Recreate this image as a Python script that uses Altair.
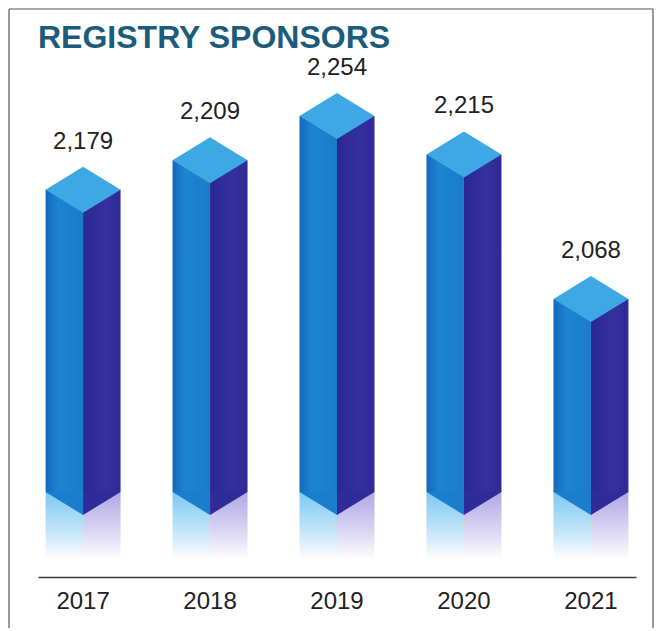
import altair as alt
import pandas as pd

years = ["2017", "2018", "2019", "2020", "2021"]
sponsors = [2179, 2209, 2254, 2215, 2068]
title_text = ["REGISTRY SPONSORS"]

df = pd.DataFrame({"year": years, "value": sponsors})
tdf = pd.DataFrame({"t": title_text})

Y_MIN, Y_MAX = 1785.5, 2302.8
FLOOR = 1871.9
REFL = 1803.0

FRONT = "#1a7dce"
SIDE = "#302b9a"
TOP = "#3ea8e4"
FONT = "Liberation Sans"

x = alt.X("year:N", title=None,
          scale=alt.Scale(paddingInner=0.41, paddingOuter=0.06),
          axis=alt.Axis(labelAngle=0, labelFontSize=24, labelColor="#222222",
                        labelFont=FONT, ticks=False, labelPadding=12,
                        domainColor="#3a3a3a", domainWidth=1.5, grid=False))
yscale = alt.Scale(domain=[Y_MIN, Y_MAX], zero=False, nice=False)

base = alt.Chart(df)

refl_front = base.mark_bar(
    width=37.5, xOffset=-18.75,
    color=alt.Gradient(gradient="linear", x1=0, x2=0, y1=0, y2=1,
                       stops=[alt.GradientStop(color="#7cc8f2", offset=0),
                              alt.GradientStop(color="#c6e6f9", offset=0.6),
                              alt.GradientStop(color="#ffffff", offset=1)])
).encode(x=x, y=alt.Y("floor:Q", scale=yscale, axis=None), y2="refl:Q").transform_calculate(
    floor=str(FLOOR), refl=str(REFL))

refl_side = base.mark_bar(
    width=37.5, xOffset=18.75,
    color=alt.Gradient(gradient="linear", x1=0, x2=0, y1=0, y2=1,
                       stops=[alt.GradientStop(color="#b0a6e4", offset=0),
                              alt.GradientStop(color="#ddd8f3", offset=0.6),
                              alt.GradientStop(color="#ffffff", offset=1)])
).encode(x=x, y=alt.Y("floor:Q", scale=yscale, axis=None), y2="refl:Q").transform_calculate(
    floor=str(FLOOR), refl=str(REFL))

front = base.mark_bar(
    width=37.5, xOffset=-18.75,
    color=alt.Gradient(gradient="linear", x1=0, x2=1, y1=0, y2=0,
                       stops=[alt.GradientStop(color="#1668bf", offset=0),
                              alt.GradientStop(color="#1d84d3", offset=0.35),
                              alt.GradientStop(color="#1a7bcc", offset=1)])
).encode(x=x, y=alt.Y("value:Q", scale=yscale, axis=None), y2="floor:Q").transform_calculate(
    floor=str(FLOOR))

side = base.mark_bar(
    width=37.5, xOffset=18.75,
    color=alt.Gradient(gradient="linear", x1=0, x2=1, y1=0, y2=0,
                       stops=[alt.GradientStop(color="#2c2892", offset=0),
                              alt.GradientStop(color="#352fa0", offset=0.6),
                              alt.GradientStop(color="#2f2a96", offset=1)])
).encode(x=x, y=alt.Y("value:Q", scale=yscale, axis=None), y2="floor:Q").transform_calculate(
    floor=str(FLOOR))

vfront = base.mark_point(
    shape="M -1 0 L 0 0 L 0 0.613 Z", size=5625, filled=True, opacity=1,
    strokeWidth=0, color=FRONT
).encode(x=x, y=alt.Y("floor:Q", scale=yscale, axis=None)).transform_calculate(floor=str(FLOOR))

vside = base.mark_point(
    shape="M 0 0 L 1 0 L 0 0.613 Z", size=5625, filled=True, opacity=1,
    strokeWidth=0, color=SIDE
).encode(x=x, y=alt.Y("floor:Q", scale=yscale, axis=None)).transform_calculate(floor=str(FLOOR))

top = base.mark_point(
    shape="M -1 0 L 0 -0.613 L 1 0 L 0 0.613 Z", size=5625, filled=True, opacity=1,
    strokeWidth=0, color=TOP
).encode(x=x, y=alt.Y("value:Q", scale=yscale, axis=None))

labels = base.mark_text(
    dy=-48, fontSize=24, font=FONT, color="#222222", baseline="middle"
).encode(x=x, y=alt.Y("value:Q", scale=yscale, axis=None),
         text=alt.Text("value:Q", format=",d"))

title = alt.Chart(tdf).mark_text(
    align="left", baseline="middle", font=FONT, fontSize=32, fontWeight="bold",
    color="#1b5c7c"
).encode(x=alt.value(0), y=alt.value(-30), text="t:N")

border = alt.Chart(tdf).mark_rule(color="#555555", strokeWidth=1.2).encode(
    x=alt.value(-29), x2=alt.value(-29), y=alt.value(-59), y2=alt.value(560))
border_r = alt.Chart(tdf).mark_rule(color="#555555", strokeWidth=1.2).encode(
    x=alt.value(615), x2=alt.value(615), y=alt.value(-59), y2=alt.value(560))
border_t = alt.Chart(tdf).mark_rule(color="#555555", strokeWidth=1.2).encode(
    x=alt.value(-29), x2=alt.value(615), y=alt.value(-59), y2=alt.value(-59))

chart = alt.layer(
    refl_front, refl_side, front, side, vfront, vside, top, labels, title,
    border, border_r, border_t
).properties(
    width=598, height=509,
    autosize=alt.AutoSizeParams(type="none"),
    padding={"left": 30, "top": 60, "right": 18, "bottom": 60},
).configure_view(stroke=None)

chart.save("out.html", embed_options={"renderer": "svg", "actions": False})
